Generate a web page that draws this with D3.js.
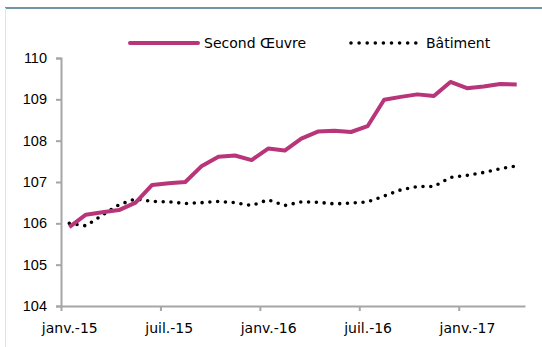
<!DOCTYPE html>
<html>
<head>
<meta charset="utf-8">
<script src="https://cdn.jsdelivr.net/npm/d3@7/dist/d3.min.js"></script>
<style>
  html, body { margin: 0; padding: 0; background: #fff; }
  svg { display: block; }
</style>
</head>
<body>
<svg id="chart" width="542" height="347"></svg>
<script>
const months = ["2015-01","2015-02","2015-03","2015-04","2015-05","2015-06","2015-07","2015-08","2015-09","2015-10","2015-11","2015-12",
  "2016-01","2016-02","2016-03","2016-04","2016-05","2016-06","2016-07","2016-08","2016-09","2016-10","2016-11","2016-12",
  "2017-01","2017-02","2017-03","2017-04"];
const secondOeuvre = [105.91,106.21,106.27,106.32,106.50,106.93,106.97,107.00,107.39,107.61,107.64,107.53,
  107.81,107.76,108.05,108.22,108.24,108.21,108.35,108.99,109.06,109.12,109.08,109.42,
  109.27,109.31,109.37,109.36];
const batiment = [106.00,105.94,106.20,106.45,106.59,106.53,106.52,106.48,106.50,106.53,106.50,106.43,
  106.57,106.43,106.52,106.51,106.47,106.49,106.52,106.66,106.81,106.89,106.89,107.11,
  107.16,107.23,107.32,107.39];
const seriesNames = ["Second Œuvre", "Bâtiment"];
const yTicks = [104,105,106,107,108,109,110];
const xTickIdx = [0,6,12,18,24];
const xTickLabels = ["janv.-15","juil.-15","janv.-16","juil.-16","janv.-17"];

const svg = d3.select("#chart");
const pink = "#b8357a";

// frame
svg.append("line").attr("x1",5).attr("x2",542).attr("y1",8).attr("y2",8)
  .attr("stroke","#6f97a6").attr("stroke-width",2);
svg.append("line").attr("x1",5.5).attr("x2",5.5).attr("y1",8).attr("y2",347)
  .attr("stroke","#dde3e6").attr("stroke-width",1);

const x = d3.scaleLinear().domain([0, months.length]).range([61, 525]);
const y = d3.scaleLinear().domain([104, 110]).range([306, 58]);
const xc = i => x(i + 0.5);

// y axis
const yAxis = svg.append("g").attr("transform","translate(61,0)")
  .call(d3.axisLeft(y).tickValues(yTicks).tickFormat(d3.format("d")).tickSize(5).tickPadding(9));
yAxis.select(".domain").attr("stroke","#a6a6a6").attr("stroke-width",2);
yAxis.selectAll(".tick line").attr("stroke","#a6a6a6").attr("stroke-width",2);
yAxis.selectAll("text").attr("font-family","'Liberation Sans', Arial, sans-serif")
  .attr("font-size","14.5px").attr("fill","#000");

// x axis
const xAxis = svg.append("g").attr("transform","translate(0,306)")
  .call(d3.axisBottom(x).tickValues(xTickIdx).tickFormat((d,i) => xTickLabels[i]).tickSize(5).tickSizeOuter(0).tickPadding(12));
xAxis.select(".domain").attr("stroke","#a6a6a6").attr("stroke-width",2);
xAxis.selectAll(".tick line").attr("stroke","#a6a6a6").attr("stroke-width",2);
xAxis.selectAll("text").attr("font-family","'DejaVu Sans', Verdana, sans-serif")
  .attr("font-size","14px").attr("fill","#000")
  .attr("dx", (x(1) - x(0)) / 2);

const line = d3.line().x((d,i) => xc(i)).y(d => y(d));

svg.append("path").datum(batiment).attr("d", line)
  .attr("fill","none").attr("stroke","#000").attr("stroke-width",3.6)
  .attr("stroke-linecap","round").attr("stroke-dasharray","0,7.8");

svg.append("path").datum(secondOeuvre).attr("d", line)
  .attr("fill","none").attr("stroke",pink).attr("stroke-width",4)
  .attr("stroke-linejoin","round");

// legend
const leg = svg.append("g");
leg.append("line").attr("x1",130).attr("x2",198).attr("y1",43).attr("y2",43)
  .attr("stroke",pink).attr("stroke-width",4).attr("stroke-linecap","round");
leg.append("text").attr("x",204).attr("y",48).text(seriesNames[0])
  .attr("font-family","'DejaVu Sans', Verdana, sans-serif").attr("font-size","14px");
leg.append("line").attr("x1",351).attr("x2",416).attr("y1",43).attr("y2",43)
  .attr("stroke","#000").attr("stroke-width",3.6).attr("stroke-linecap","round")
  .attr("stroke-dasharray","0,8.1");
leg.append("text").attr("x",426).attr("y",48).text(seriesNames[1])
  .attr("font-family","'DejaVu Sans', Verdana, sans-serif").attr("font-size","14px");
</script>
</body>
</html>
